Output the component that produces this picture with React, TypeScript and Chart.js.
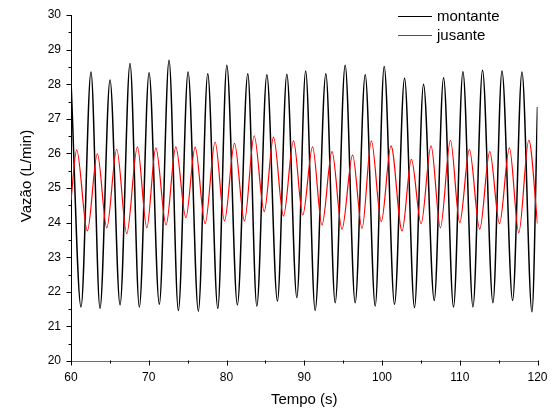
import React, { useEffect, useRef } from 'react';
import { Chart, registerables } from 'chart.js';

Chart.register(...registerables);

// ---- Data ----
const seriesNames = ['montante', 'jusante'];

const montanteTime = [60, 61.29, 62.57, 63.73, 65.02, 66.31, 67.59, 68.79, 70.04, 71.36, 72.61, 73.81, 75.06, 76.38, 77.59, 78.88, 80.04, 81.4, 82.74, 83.9, 85.19, 86.55, 87.76, 89.05, 90.18, 91.4, 92.78, 93.98, 95.26, 96.55, 97.84, 99.13, 100.28, 101.61, 102.9, 104.18, 105.34, 106.72, 107.92, 109.2, 110.41, 111.7, 112.93, 114.27, 115.43, 116.8, 118.0, 119.29, 120];
const montanteFlow = [28.1, 21.56, 28.35, 21.52, 28.12, 21.62, 28.6, 21.56, 28.33, 21.64, 28.69, 21.46, 28.35, 21.44, 28.3, 21.52, 28.55, 21.62, 28.3, 21.59, 28.27, 21.73, 28.29, 21.83, 28.38, 21.46, 28.3, 21.68, 28.55, 21.68, 28.27, 21.59, 28.51, 21.64, 28.17, 21.54, 28.0, 21.75, 28.19, 21.56, 28.36, 21.56, 28.4, 21.68, 28.38, 21.75, 28.35, 21.42, 27.34];

const jusanteTime = [60, 60.73, 62.1, 63.39, 64.6, 65.88, 67.17, 68.54, 69.75, 70.91, 72.23, 73.48, 74.77, 75.97, 77.25, 78.54, 79.74, 81.03, 82.31, 83.56, 84.85, 86.05, 87.33, 88.62, 89.81, 91.07, 92.28, 93.57, 94.85, 96.22, 97.43, 98.63, 99.91, 101.16, 102.58, 103.78, 105.03, 106.31, 107.51, 108.8, 110.0, 111.24, 112.57, 113.86, 115.11, 116.39, 117.59, 118.88, 120];
const jusanteFlow = [24.65, 26.1, 23.76, 25.99, 23.85, 26.12, 23.68, 26.19, 23.85, 26.16, 23.93, 26.19, 24.14, 26.18, 23.97, 26.33, 24.05, 26.29, 24.05, 26.51, 24.32, 26.47, 24.19, 26.36, 24.22, 26.19, 23.93, 26.05, 23.81, 25.95, 23.83, 26.36, 24.03, 26.22, 23.76, 25.83, 23.97, 26.22, 23.85, 26.38, 24.0, 26.11, 23.81, 26.05, 23.97, 26.16, 23.71, 26.38, 23.97];

const xMin = 60;
const xMax = 120;
const xMajorStep = 10;
const xMinorStep = 5;
const yMin = 20;
const yMax = 30;
const yMajorStep = 1;
const yMinorStep = 0.5;

const xTitle = 'Tempo (s)';
const yTitle = 'Vazão (L/min)';

const FONT = 'Arial, "Liberation Sans", sans-serif';
const seriesColors = ['#000000', '#ff0000'];

const ticksPlugin = {
  id: 'originTicks',
  afterDraw(chart: any) {
    const { ctx, chartArea } = chart;
    const xs = chart.scales.x;
    const ys = chart.scales.y;
    ctx.save();
    ctx.strokeStyle = '#000';
    ctx.lineWidth = 1;
    for (let v = yMin; v <= yMax + 1e-9; v += yMinorStep) {
      const major = Math.abs(v / yMajorStep - Math.round(v / yMajorStep)) < 1e-6;
      const len = major ? 5 : 3;
      const py = Math.round(ys.getPixelForValue(v)) + 0.5;
      const px = Math.round(chartArea.left) + 0.5;
      ctx.beginPath();
      ctx.moveTo(px - len, py);
      ctx.lineTo(px, py);
      ctx.stroke();
    }
    for (let v = xMin; v <= xMax + 1e-9; v += xMinorStep) {
      const major = Math.abs(v / xMajorStep - Math.round(v / xMajorStep)) < 1e-6;
      const len = major ? 5 : 3;
      const px = Math.round(xs.getPixelForValue(v)) + 0.5;
      const py = Math.round(chartArea.bottom) - 0.5;
      ctx.beginPath();
      ctx.moveTo(px, py);
      ctx.lineTo(px, py + len);
      ctx.stroke();
    }
    // y axis title (drawn here so it can sit where the reference puts it)
    ctx.font = `15px ${FONT}`;
    ctx.fillStyle = '#000';
    ctx.textAlign = 'center';
    ctx.textBaseline = 'middle';
    ctx.translate(27, 176);
    ctx.rotate(-Math.PI / 2);
    ctx.fillText(yTitle, 0, 0);
    ctx.restore();
  },
};

const legendPlugin = {
  id: 'originLegend',
  afterDraw(chart: any) {
    const { ctx } = chart;
    ctx.save();
    ctx.font = `15px ${FONT}`;
    ctx.textBaseline = 'middle';
    ctx.textAlign = 'left';
    seriesNames.forEach((name, i) => {
      const y = 16 + i * 19;
      ctx.strokeStyle = seriesColors[i];
      ctx.lineWidth = 1;
      ctx.beginPath();
      ctx.moveTo(398, y + 0.5);
      ctx.lineTo(432, y + 0.5);
      ctx.stroke();
      ctx.fillStyle = '#000';
      ctx.fillText(name, 437, y + 1);
    });
    ctx.restore();
  },
};

export default function App() {
  const canvasRef = useRef<HTMLCanvasElement | null>(null);

  useEffect(() => {
    document.body.style.margin = '0';
    const canvas = canvasRef.current;
    if (!canvas) return;
    const montanteData = montanteTime.map((t, i) => ({ x: t, y: montanteFlow[i] }));
    const jusanteData = jusanteTime.map((t, i) => ({ x: t, y: jusanteFlow[i] }));

    const chart = new Chart(canvas, {
      type: 'line',
      data: {
        datasets: [
          {
            label: seriesNames[0],
            data: montanteData,
            borderColor: seriesColors[0],
            borderWidth: 1.5,
            pointRadius: 0,
            cubicInterpolationMode: 'monotone',
            order: 1,
          },
          {
            label: seriesNames[1],
            data: jusanteData,
            borderColor: seriesColors[1],
            borderWidth: 1.2,
            pointRadius: 0,
            cubicInterpolationMode: 'monotone',
            order: 0,
          },
        ],
      },
      options: {
        responsive: false,
        animation: false,
        devicePixelRatio: 1,
        layout: { padding: { left: 0, top: 15, right: 14.5, bottom: 0 } },
        plugins: {
          legend: { display: false },
          tooltip: { enabled: false },
        },
        scales: {
          x: {
            type: 'linear',
            min: xMin,
            max: xMax,
            grid: { display: false, drawTicks: false },
            border: { display: true, color: '#6e6e6e', width: 1 },
            ticks: {
              stepSize: xMajorStep,
              color: '#000',
              font: { family: FONT, size: 12 },
              padding: 9,
              maxRotation: 0,
            },
            title: {
              display: true,
              text: xTitle,
              color: '#000',
              font: { family: FONT, size: 15, lineHeight: 1.2 },
              padding: { top: 0, bottom: 2 },
            },
            afterFit(scale: any) {
              scale.height = 50;
              scale.paddingLeft = 0;
              scale.paddingRight = 0;
            },
          },
          y: {
            type: 'linear',
            min: yMin,
            max: yMax,
            grid: { display: false, drawTicks: false },
            border: { display: true, color: '#000', width: 1 },
            ticks: {
              stepSize: yMajorStep,
              color: '#000',
              font: { family: FONT, size: 12 },
              padding: 10,
            },
            title: { display: false, text: yTitle },
            afterFit(scale: any) {
              scale.width = 71;
              scale.paddingTop = 0;
              scale.paddingBottom = 0;
            },
          },
        },
      },
      plugins: [ticksPlugin, legendPlugin],
    });

    return () => {
      chart.destroy();
    };
  }, []);

  return (
    <div style={{ width: 552, height: 411, position: 'relative', background: '#fff' }}>
      <canvas ref={canvasRef} width={552} height={411} style={{ display: 'block' }} />
    </div>
  );
}
